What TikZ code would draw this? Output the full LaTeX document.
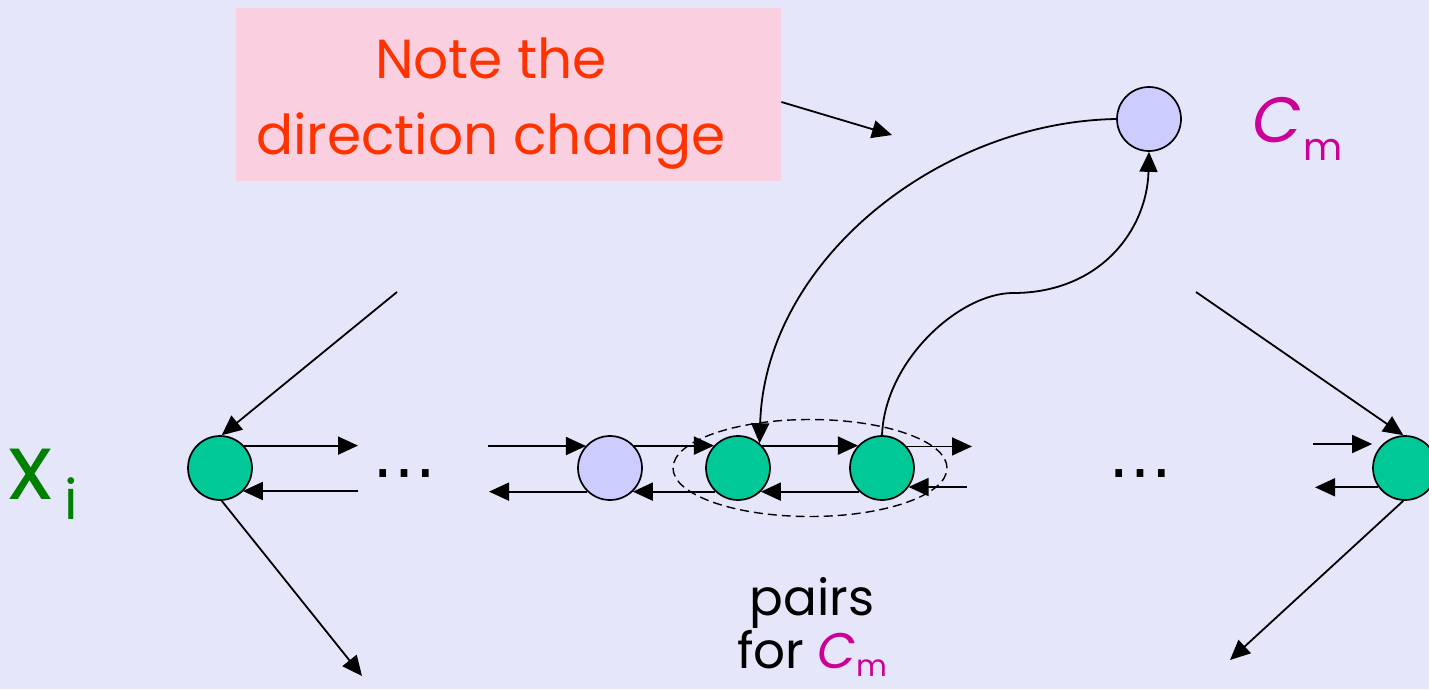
\documentclass[tikz,border=0pt]{standalone}
\usepackage{fontspec}
\setmainfont{Poppins}
\newfontfamily\dotfont{DejaVu Sans}
\usetikzlibrary{arrows.meta,shapes.geometric,calc}
\definecolor{bg}{RGB}{230,230,250}
\definecolor{notebg}{RGB}{250,208,224}
\definecolor{notetxt}{RGB}{255,51,0}
\definecolor{gnode}{RGB}{0,200,150}
\definecolor{lnode}{RGB}{204,204,255}
\definecolor{xgreen}{RGB}{0,128,0}
\definecolor{cmag}{RGB}{204,0,153}
\begin{document}
\begin{tikzpicture}[x=1pt,y=-1pt,
  vert/.style={circle,draw=black,line width=1.7pt,minimum size=64pt,inner sep=0pt},
  gvert/.style={vert,fill=gnode},
  lvert/.style={vert,fill=lnode},
  conn/.style={line width=1.8pt,-{Triangle[length=20pt,width=18pt]}},
  lbl/.style={inner sep=0pt,anchor=base}]
\useasboundingbox (0,0) rectangle (1429,689);
\clip (0,0) rectangle (1429,689);
\fill[bg] (0,0) rectangle (1429,689);

% note box
\node[fill=notebg,minimum width=545pt,minimum height=173pt,inner sep=0pt,anchor=north west] (notebox) at (236,8) {};
\node[lbl,text=notetxt,font=\fontsize{55}{55}\selectfont] (note1) at (491,78) {Note the};
\node[lbl,text=notetxt,font=\fontsize{55}{55}\selectfont] (note2) at (491,154) {direction change};

% dashed ellipse
\node[ellipse,draw=black,dashed,dash pattern=on 9pt off 5pt,line width=1.4pt,minimum width=274pt,minimum height=97pt,inner sep=0pt] (pairsell) at (810,468) {};

% nodes
\node[gvert] (g1) at (220,468) {};
\node[lvert] (lav) at (610,468) {};
\node[gvert] (g2) at (738,468) {};
\node[gvert] (g3) at (882,468) {};
\node[gvert] (gR) at (1405,468) {};
\node[lvert] (c) at (1149,119) {};

% free ends
\coordinate (e1) at (358,446);
\coordinate (e2) at (358,491);
\coordinate (e3) at (488,446);
\coordinate (e4) at (489,491);
\coordinate (e5) at (972,447);
\coordinate (e6) at (967,487);
\coordinate (e7) at (1313,444);
\coordinate (e8) at (1315,487);
\coordinate (d1) at (397,292);
\coordinate (d2) at (362,676);
\coordinate (d3) at (1196,292);
\coordinate (d4) at (1230,660);
\coordinate (n1) at (781,102);
\coordinate (n2) at (892,135);
\coordinate (m) at (1013,293);

% horizontal connectors
\draw[conn] (g1.43) -- (g1.43 -| e1);
\draw[conn] (e2) -- (e2 -| g1.-46);
\draw[conn] (e3) -- (e3 -| lav.137);
\draw[conn] (lav.-134) -- (lav.-134 -| e4);
\draw[conn] (lav.43) -- (lav.43 -| g2.137);
\draw[conn] (g2.-134) -- (g2.-134 -| lav.-46);
\draw[conn] (g2.43) -- (g2.43 -| g3.137);
\draw[conn] (g3.-134) -- (g3.-134 -| g2.-46);
\draw[conn] (g3.41) -- (g3.41 -| e5);
\draw[conn] (e6) -- (e6 -| g3.-36);
\draw[conn] (e7) -- (e7 -| gR.west);
\draw[conn] (gR.-144) -- (gR.-144 -| e8);

% diagonals
\draw[conn] (d1) -- (g1.87);
\draw[conn] (g1.-87) -- (d2);
\draw[conn] (d3) -- (gR.93);
\draw[conn] (gR.-93) -- (d4);
\draw[conn] (notebox.east |- n1) -- (n2);

% curves
\draw[conn] (c.west) .. controls (940,122) and (765,260) .. (g2.49);
\draw[conn] (g3.north) .. controls (885,360) and (960,293) .. (m) .. controls (1100,293) and (1147,230) .. (c.south);

% dots
\node[lbl,font=\dotfont\fontsize{64}{64}\selectfont] (dots1) at (404,477) {…};
\node[lbl,font=\dotfont\fontsize{64}{64}\selectfont] (dots2) at (1140,477) {…};

% labels
\node[lbl,anchor=base west,text=xgreen,font=\fontsize{92}{92}\selectfont] (xi) at (8,499) {x\kern12pt\raisebox{-20pt}{\fontsize{55}{55}\selectfont i}};
\node[lbl,anchor=base west,text=cmag,font=\fontsize{64}{64}\selectfont] (cm) at (1252,142) {\textit{C}\kern2pt\raisebox{-18pt}{\fontsize{38}{38}\selectfont m}};
\node[lbl,font=\fontsize{50}{50}\selectfont] (pairs1) at (812,615) {pairs};
\node[lbl,font=\fontsize{50}{50}\selectfont] (pairs2) at (812,668) {for \textcolor{cmag}{\textit{C}\raisebox{-8pt}{\fontsize{30}{30}\selectfont m}}};
\end{tikzpicture}
\end{document}
